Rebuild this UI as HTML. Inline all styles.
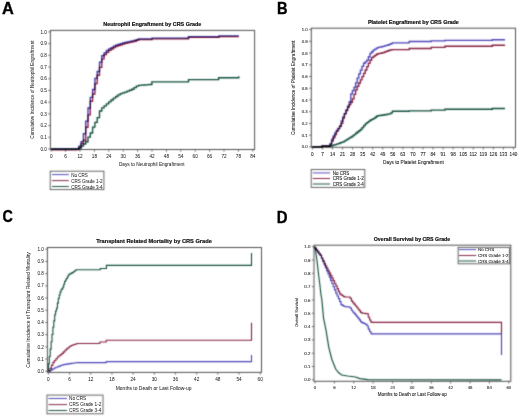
<!DOCTYPE html>
<html><head><meta charset="utf-8"><style>
html,body{margin:0;padding:0;background:#fff;width:520px;height:416px;overflow:hidden}
svg{display:block}
text{font-family:"Liberation Sans",sans-serif}
text.g{text-rendering:geometricPrecision}
</style></head><body>
<svg width="520" height="416" viewBox="0 0 520 416">
<defs><filter id="bl" x="0" y="0" width="520" height="416" filterUnits="userSpaceOnUse" color-interpolation-filters="sRGB"><feConvolveMatrix order="3" kernelMatrix="1 4 1 4 16 4 1 4 1" edgeMode="duplicate" preserveAlpha="true"/></filter><filter id="bt" x="0" y="0" width="520" height="416" filterUnits="userSpaceOnUse" color-interpolation-filters="sRGB"><feConvolveMatrix order="3" kernelMatrix="0 0 0 0 1 0 0 0 0" preserveAlpha="false"/></filter></defs>
<rect width="520" height="416" fill="#fff"/>
<g filter="url(#bl)">
<rect width="520" height="416" fill="#fff"/>
<rect x="50.4" y="30.4" width="204.2" height="119.1" fill="none" stroke="#505050" stroke-width="1"/>
<line x1="48.2" y1="149" x2="50.4" y2="149" stroke="#505050" stroke-width="0.8"/>
<line x1="48.2" y1="137.29" x2="50.4" y2="137.29" stroke="#505050" stroke-width="0.8"/>
<line x1="48.2" y1="125.58" x2="50.4" y2="125.58" stroke="#505050" stroke-width="0.8"/>
<line x1="48.2" y1="113.87" x2="50.4" y2="113.87" stroke="#505050" stroke-width="0.8"/>
<line x1="48.2" y1="102.16" x2="50.4" y2="102.16" stroke="#505050" stroke-width="0.8"/>
<line x1="48.2" y1="90.45" x2="50.4" y2="90.45" stroke="#505050" stroke-width="0.8"/>
<line x1="48.2" y1="78.74" x2="50.4" y2="78.74" stroke="#505050" stroke-width="0.8"/>
<line x1="48.2" y1="67.03" x2="50.4" y2="67.03" stroke="#505050" stroke-width="0.8"/>
<line x1="48.2" y1="55.32" x2="50.4" y2="55.32" stroke="#505050" stroke-width="0.8"/>
<line x1="48.2" y1="43.61" x2="50.4" y2="43.61" stroke="#505050" stroke-width="0.8"/>
<line x1="48.2" y1="31.9" x2="50.4" y2="31.9" stroke="#505050" stroke-width="0.8"/>
<line x1="51.2" y1="149.5" x2="51.2" y2="151.7" stroke="#505050" stroke-width="0.8"/>
<line x1="65.6" y1="149.5" x2="65.6" y2="151.7" stroke="#505050" stroke-width="0.8"/>
<line x1="80" y1="149.5" x2="80" y2="151.7" stroke="#505050" stroke-width="0.8"/>
<line x1="94.4" y1="149.5" x2="94.4" y2="151.7" stroke="#505050" stroke-width="0.8"/>
<line x1="108.8" y1="149.5" x2="108.8" y2="151.7" stroke="#505050" stroke-width="0.8"/>
<line x1="123.2" y1="149.5" x2="123.2" y2="151.7" stroke="#505050" stroke-width="0.8"/>
<line x1="137.6" y1="149.5" x2="137.6" y2="151.7" stroke="#505050" stroke-width="0.8"/>
<line x1="152" y1="149.5" x2="152" y2="151.7" stroke="#505050" stroke-width="0.8"/>
<line x1="166.4" y1="149.5" x2="166.4" y2="151.7" stroke="#505050" stroke-width="0.8"/>
<line x1="180.8" y1="149.5" x2="180.8" y2="151.7" stroke="#505050" stroke-width="0.8"/>
<line x1="195.2" y1="149.5" x2="195.2" y2="151.7" stroke="#505050" stroke-width="0.8"/>
<line x1="209.6" y1="149.5" x2="209.6" y2="151.7" stroke="#505050" stroke-width="0.8"/>
<line x1="224" y1="149.5" x2="224" y2="151.7" stroke="#505050" stroke-width="0.8"/>
<line x1="238.4" y1="149.5" x2="238.4" y2="151.7" stroke="#505050" stroke-width="0.8"/>
<line x1="252.8" y1="149.5" x2="252.8" y2="151.7" stroke="#505050" stroke-width="0.8"/>
<path d="M51.2,149.8 H53.5 V149.8 H55.8 V149.8 H58.1 V149.8 H60.4 V149.8 H62.7 V149.8 H65 V149.8 H67.3 V149.8 H69.6 V149.8 H71.9 V149.8 H74.2 V149.8 H76.5 V149.63 H78.8 V147.69 H81.1 V143.67 H83.4 V140.23 H85.7 V127.26 H88 V114.8 H90.3 V101.28 H92.6 V94.01 H94.9 V83.59 H97.2 V75.25 H99.5 V67.32 H101.8 V58.92 H104.1 V54.6 H106.4 V52.3 H108.7 V50.32 H111 V48.95 H113.3 V47.57 H115.6 V46.2 H117.9 V45.52 H120.2 V44.84 H122.5 V44.11 H124.8 V43.37 H127.1 V42.88 H129.4 V42.42 H131.7 V41.83 H134 V41.2 H136.3 V40.38 H138.5 V39.6 L138.5,39.6 H152 V38.9 H188.5 V37.4 H219 V36.6 H238.8 V36.6" fill="none" stroke="#961e46" stroke-width="1.35" stroke-linejoin="miter" style="mix-blend-mode:multiply"/>
<path d="M51.2,149 H53.5 V149 H55.8 V149 H58.1 V149 H60.4 V149 H62.7 V149 H65 V149 H67.3 V149 H69.6 V149 H71.9 V149 H74.2 V149 H76.5 V148.83 H78.8 V146.18 H81.1 V141.57 H83.4 V133.78 H85.7 V121.07 H88 V108 H90.3 V97.32 H92.6 V89.46 H94.9 V78.31 H97.2 V71.48 H99.5 V62.17 H101.8 V55.77 H104.1 V52.8 H106.4 V50.5 H108.7 V48.92 H111 V47.55 H113.3 V46.18 H115.6 V45.1 H117.9 V44.42 H120.2 V43.74 H122.5 V42.99 H124.8 V42.34 H127.1 V41.88 H129.4 V41.41 H131.7 V40.91 H134 V40.4 H136.3 V39.58 H138.5 V38.8 L138.5,38.8 H152 V38.1 H188.5 V36.6 H219 V35.8 H238.8 V35.8" fill="none" stroke="#3c32aa" stroke-width="1.35" stroke-linejoin="miter" style="mix-blend-mode:multiply"/>
<path d="M51.2,149 H53.5 V149 H55.8 V149 H58.1 V149 H60.4 V149 H62.7 V149 H65 V149 H67.3 V149 H69.6 V149 H71.9 V149 H74.2 V149 H76.5 V149 H78.8 V148.13 H81.1 V146.05 H83.4 V144.04 H85.7 V141.7 H88 V137.19 H90.3 V133 H92.6 V127.09 H94.9 V122.41 H97.2 V117.59 H99.5 V111 H101.8 V107.81 H104.1 V105.82 H106.4 V103.83 H108.7 V101.87 H111 V99.97 H113.3 V98.07 H115.6 V96.46 H117.9 V94.89 H120.2 V93.67 H122.5 V92.92 H124.8 V92.17 H127.1 V91.19 H129.4 V90.2 H131.7 V89.2 H134 V87.69 H136.3 V86.19 H138.6 V85.32 H140.9 V85.16 H143.2 V85 H145.5 V84.84 H147.8 V84.68 H150.1 V84.53 H151.9 V84.4" fill="none" stroke="#0e4c3c" stroke-width="1.35" stroke-linejoin="miter" style="mix-blend-mode:multiply"/>
<path d="M151.9,84.4 H151.9 V81.9 H188.5 V81.9 H188.5 V79.6 H218.6 V79.6 H218.6 V77.7 H238.8 V77.7 H238.8 V76.2" fill="none" stroke="#0e4c3c" stroke-width="1.35" stroke-linejoin="miter" style="mix-blend-mode:multiply"/>
<rect x="50.2" y="171.2" width="53.7" height="18.4" fill="#fff" stroke="#555" stroke-width="0.9"/>
<line x1="52" y1="174.6" x2="68.8" y2="174.6" stroke="#4a42b8" stroke-width="0.95"/>
<line x1="52" y1="180.6" x2="68.8" y2="180.6" stroke="#841e3e" stroke-width="0.95"/>
<line x1="52" y1="186.5" x2="68.8" y2="186.5" stroke="#0e4c3c" stroke-width="0.95"/>
<rect x="311.3" y="28.2" width="204.2" height="119.1" fill="none" stroke="#505050" stroke-width="1"/>
<line x1="309.1" y1="146.9" x2="311.3" y2="146.9" stroke="#505050" stroke-width="0.8"/>
<line x1="309.1" y1="135.17" x2="311.3" y2="135.17" stroke="#505050" stroke-width="0.8"/>
<line x1="309.1" y1="123.44" x2="311.3" y2="123.44" stroke="#505050" stroke-width="0.8"/>
<line x1="309.1" y1="111.71" x2="311.3" y2="111.71" stroke="#505050" stroke-width="0.8"/>
<line x1="309.1" y1="99.98" x2="311.3" y2="99.98" stroke="#505050" stroke-width="0.8"/>
<line x1="309.1" y1="88.25" x2="311.3" y2="88.25" stroke="#505050" stroke-width="0.8"/>
<line x1="309.1" y1="76.52" x2="311.3" y2="76.52" stroke="#505050" stroke-width="0.8"/>
<line x1="309.1" y1="64.79" x2="311.3" y2="64.79" stroke="#505050" stroke-width="0.8"/>
<line x1="309.1" y1="53.06" x2="311.3" y2="53.06" stroke="#505050" stroke-width="0.8"/>
<line x1="309.1" y1="41.33" x2="311.3" y2="41.33" stroke="#505050" stroke-width="0.8"/>
<line x1="309.1" y1="29.6" x2="311.3" y2="29.6" stroke="#505050" stroke-width="0.8"/>
<line x1="312.4" y1="147.3" x2="312.4" y2="149.5" stroke="#505050" stroke-width="0.8"/>
<line x1="322.45" y1="147.3" x2="322.45" y2="149.5" stroke="#505050" stroke-width="0.8"/>
<line x1="332.5" y1="147.3" x2="332.5" y2="149.5" stroke="#505050" stroke-width="0.8"/>
<line x1="342.56" y1="147.3" x2="342.56" y2="149.5" stroke="#505050" stroke-width="0.8"/>
<line x1="352.61" y1="147.3" x2="352.61" y2="149.5" stroke="#505050" stroke-width="0.8"/>
<line x1="362.66" y1="147.3" x2="362.66" y2="149.5" stroke="#505050" stroke-width="0.8"/>
<line x1="372.71" y1="147.3" x2="372.71" y2="149.5" stroke="#505050" stroke-width="0.8"/>
<line x1="382.76" y1="147.3" x2="382.76" y2="149.5" stroke="#505050" stroke-width="0.8"/>
<line x1="392.82" y1="147.3" x2="392.82" y2="149.5" stroke="#505050" stroke-width="0.8"/>
<line x1="402.87" y1="147.3" x2="402.87" y2="149.5" stroke="#505050" stroke-width="0.8"/>
<line x1="412.92" y1="147.3" x2="412.92" y2="149.5" stroke="#505050" stroke-width="0.8"/>
<line x1="422.97" y1="147.3" x2="422.97" y2="149.5" stroke="#505050" stroke-width="0.8"/>
<line x1="433.02" y1="147.3" x2="433.02" y2="149.5" stroke="#505050" stroke-width="0.8"/>
<line x1="443.08" y1="147.3" x2="443.08" y2="149.5" stroke="#505050" stroke-width="0.8"/>
<line x1="453.13" y1="147.3" x2="453.13" y2="149.5" stroke="#505050" stroke-width="0.8"/>
<line x1="463.18" y1="147.3" x2="463.18" y2="149.5" stroke="#505050" stroke-width="0.8"/>
<line x1="473.23" y1="147.3" x2="473.23" y2="149.5" stroke="#505050" stroke-width="0.8"/>
<line x1="483.28" y1="147.3" x2="483.28" y2="149.5" stroke="#505050" stroke-width="0.8"/>
<line x1="493.34" y1="147.3" x2="493.34" y2="149.5" stroke="#505050" stroke-width="0.8"/>
<line x1="503.39" y1="147.3" x2="503.39" y2="149.5" stroke="#505050" stroke-width="0.8"/>
<line x1="513.44" y1="147.3" x2="513.44" y2="149.5" stroke="#505050" stroke-width="0.8"/>
<path d="M312.4,146.9 H314 V146.9 H315.6 V146.9 H317.2 V146.9 H318.8 V146.9 H320.4 V146.9 H322 V146 H323.6 V146 H325.2 V146 H326.8 V146 H328.4 V146 H330 V144.85 H331.6 V141.15 H333.2 V137.78 H334.8 V134.55 H336.4 V131.32 H338 V128.42 H339.6 V126.06 H341.2 V123.34 H342.8 V118.07 H344.4 V113.68 H346 V110.45 H347.6 V107.21 H349.2 V104.58 H350.8 V102.22 H352.4 V98.91 H354 V94.37 H355.6 V89.82 H357.2 V86.2 H358.8 V83 H360.4 V79.8 H362 V76.6 H363.6 V73.3 H365.2 V69.99 H366.8 V66.67 H368.4 V63.42 H370 V60.27 H371.6 V57.62 H373.2 V56.5 H374.8 V55.37 H376.4 V54.25 H378 V53.67 H379.6 V53.34 H381.2 V53.01 H382.8 V52.66 H384.4 V52.03 H386 V51.39 H387.6 V50.76 H389.2 V50.26 H390.8 V49.94 H392.4 V49.62 H392.5 V49.6 L392.5,49.6 H409.2 V48.5 H431.2 V47.3 H445 V46.2 H492.3 V45.2 H505 V45.2" fill="none" stroke="#841e3e" stroke-width="1.35" stroke-linejoin="miter" style="mix-blend-mode:multiply"/>
<path d="M312.4,146.9 H314 V146.9 H315.6 V146.9 H317.2 V146.9 H318.8 V146.9 H320.4 V146.9 H322 V146 H323.6 V146 H325.2 V146 H326.8 V146 H328.4 V146 H330 V143.72 H331.6 V139.51 H333.2 V136.03 H334.8 V132.87 H336.4 V130.4 H338 V128.8 H339.6 V126.28 H341.2 V121.01 H342.8 V116.9 H344.4 V113.7 H346 V109.93 H347.6 V106.07 H349.2 V101.71 H350.8 V93.8 H352.4 V90.55 H354 V87.31 H355.6 V82.84 H357.2 V78.08 H358.8 V73.87 H360.4 V70.09 H362 V66.3 H363.6 V63.27 H365.2 V61.91 H366.8 V60.16 H368.4 V56.73 H370 V53.3 H371.6 V51.7 H373.2 V50.1 H374.8 V49.05 H376.4 V48.13 H378 V47.39 H379.6 V47.06 H381.2 V46.72 H382.8 V46.37 H384.4 V45.9 H386 V45.43 H387.6 V44.96 H389.2 V44.38 H390.8 V43.66 H392.4 V42.94 H392.5 V42.9 L392.5,42.9 H409.2 V41.5 H431.2 V40.8 H445 V40.4 H492.3 V39.7 H505 V39.7" fill="none" stroke="#4a42b8" stroke-width="1.35" stroke-linejoin="miter" style="mix-blend-mode:multiply"/>
<path d="M312.4,146.9 H314 V146.9 H315.6 V146.9 H317.2 V146.9 H318.8 V146.9 H320.4 V146.9 H322 V146.4 H323.6 V146.4 H325.2 V146.4 H326.8 V146.4 H328.4 V146.4 H330 V146.01 H331.6 V145.55 H333.2 V145.1 H334.8 V144.65 H336.4 V144.14 H338 V143.56 H339.6 V142.97 H341.2 V142.39 H342.8 V141.8 H344.4 V140.83 H346 V139.86 H347.6 V138.89 H349.2 V137.92 H350.8 V136.95 H352.4 V135.84 H354 V134.57 H355.6 V133.29 H357.2 V132.01 H358.8 V130.74 H360.4 V129.46 H362 V127.61 H363.6 V125.69 H365.2 V123.84 H366.8 V122.59 H368.4 V121.34 H370 V120.21 H371.6 V119.43 H373.2 V118.65 H374.8 V117.51 H376.4 V116.29 H378 V115.57 H379.6 V115.51 H381.2 V115.29 H382.8 V115.01 H384.4 V114.73 H386 V114.45 H387.6 V114.17 H389.2 V113.89 H390.8 V112.93 H392.4 V111.3 H392.5 V111.2 L392.5,111.2 H409.2 V110.8 H431.2 V110.1 H445 V109.2 H492.3 V108.5 H505 V108.5" fill="none" stroke="#0e4c3c" stroke-width="1.35" stroke-linejoin="miter" style="mix-blend-mode:multiply"/>
<rect x="311.2" y="169.5" width="53.6" height="17.9" fill="#fff" stroke="#555" stroke-width="0.9"/>
<line x1="312.8" y1="172.9" x2="330" y2="172.9" stroke="#4a42b8" stroke-width="0.95"/>
<line x1="312.8" y1="178.5" x2="330" y2="178.5" stroke="#841e3e" stroke-width="0.95"/>
<line x1="312.8" y1="184" x2="330" y2="184" stroke="#0e4c3c" stroke-width="0.95"/>
<rect x="47.4" y="247.5" width="214.1" height="124.9" fill="none" stroke="#505050" stroke-width="1"/>
<line x1="45.2" y1="371.3" x2="47.4" y2="371.3" stroke="#505050" stroke-width="0.8"/>
<line x1="45.2" y1="359.09" x2="47.4" y2="359.09" stroke="#505050" stroke-width="0.8"/>
<line x1="45.2" y1="346.88" x2="47.4" y2="346.88" stroke="#505050" stroke-width="0.8"/>
<line x1="45.2" y1="334.67" x2="47.4" y2="334.67" stroke="#505050" stroke-width="0.8"/>
<line x1="45.2" y1="322.46" x2="47.4" y2="322.46" stroke="#505050" stroke-width="0.8"/>
<line x1="45.2" y1="310.25" x2="47.4" y2="310.25" stroke="#505050" stroke-width="0.8"/>
<line x1="45.2" y1="298.04" x2="47.4" y2="298.04" stroke="#505050" stroke-width="0.8"/>
<line x1="45.2" y1="285.83" x2="47.4" y2="285.83" stroke="#505050" stroke-width="0.8"/>
<line x1="45.2" y1="273.62" x2="47.4" y2="273.62" stroke="#505050" stroke-width="0.8"/>
<line x1="45.2" y1="261.41" x2="47.4" y2="261.41" stroke="#505050" stroke-width="0.8"/>
<line x1="45.2" y1="249.2" x2="47.4" y2="249.2" stroke="#505050" stroke-width="0.8"/>
<line x1="48.4" y1="372.4" x2="48.4" y2="374.6" stroke="#505050" stroke-width="0.8"/>
<line x1="69.58" y1="372.4" x2="69.58" y2="374.6" stroke="#505050" stroke-width="0.8"/>
<line x1="90.76" y1="372.4" x2="90.76" y2="374.6" stroke="#505050" stroke-width="0.8"/>
<line x1="111.94" y1="372.4" x2="111.94" y2="374.6" stroke="#505050" stroke-width="0.8"/>
<line x1="133.12" y1="372.4" x2="133.12" y2="374.6" stroke="#505050" stroke-width="0.8"/>
<line x1="154.3" y1="372.4" x2="154.3" y2="374.6" stroke="#505050" stroke-width="0.8"/>
<line x1="175.48" y1="372.4" x2="175.48" y2="374.6" stroke="#505050" stroke-width="0.8"/>
<line x1="196.66" y1="372.4" x2="196.66" y2="374.6" stroke="#505050" stroke-width="0.8"/>
<line x1="217.84" y1="372.4" x2="217.84" y2="374.6" stroke="#505050" stroke-width="0.8"/>
<line x1="239.02" y1="372.4" x2="239.02" y2="374.6" stroke="#505050" stroke-width="0.8"/>
<line x1="260.2" y1="372.4" x2="260.2" y2="374.6" stroke="#505050" stroke-width="0.8"/>
<path d="M48.4,371.3 H49.9 V370.46 H51.4 V369.62 H52.9 V368.78 H54.4 V367.94 H55.9 V367.25 H57.4 V366.68 H58.9 V366.1 H60.4 V365.53 H61.9 V364.95 H63.4 V364.62 H64.9 V364.37 H66.4 V364.13 H67.9 V363.88 H69.4 V363.63 H70.9 V363.42 H72.4 V363.22 H73.9 V363.01 H75.4 V362.81 H76.9 V362.6 L76.9,362.6 H106.1 V362.6 H106.2 V361.6 H251.5 V361.6 H251.5 V355" fill="none" stroke="#4a42b8" stroke-width="1.1" stroke-linejoin="miter" style="mix-blend-mode:multiply"/>
<path d="M48.4,371.3 H49.9 V368.33 H51.4 V365.36 H52.9 V362.4 H54.4 V360.47 H55.9 V358.71 H57.4 V356.95 H58.9 V355.72 H60.4 V354.63 H61.9 V353.39 H63.4 V351.86 H64.9 V350.32 H66.4 V348.91 H67.9 V347.73 H69.4 V346.56 H70.9 V345.56 H72.4 V345.05 H73.9 V344.53 H75.4 V344.02 H76.9 V343.5 L76.9,343.5 H99.7 V343.5 H99.8 V342 H106.1 V342 H106.2 V340.2 H251.5 V340.2 H251.5 V322.7" fill="none" stroke="#841e3e" stroke-width="1.1" stroke-linejoin="miter" style="mix-blend-mode:multiply"/>
<path d="M48.4,371.3 V363.88 H49.3 V356.45 H50.2 V349.12 H51.1 V341.82 H52 V334.52 H52.9 V327.22 H53.8 V320.88 H54.7 V314.82 H55.6 V310.97 H56.5 V308.22 H57.4 V303.13 H58.3 V298.48 H59.2 V294.99 H60.1 V292.15 H61 V289.8 H61.9 V288.9 H62.8 V286.98 H63.7 V284.24 H64.6 V281.5 H65.5 V280.01 H66.4 V278.53 H67.3 V276.93 H68.2 V275.18 H69.1 V274.29 H70 V273.83 H70.9 V273.36 H71.8 V272.87 H72.7 V272.28 H73.6 V271.7 H74.5 V271.01 H75.4 V270.27 H76.3 V269.7 H77.2 V269.7 H78.1 V269.7 H79 V269.7 H79.9 V269.7 H80.8 V269.7 H81.7 V269.7 H82.6 V269.7 H83.5 V269.7 H84.4 V269.7 H85.3 V269.7 H86.2 V269.7 H87.1 V269.7 H88 V269.7 H88.9 V269.7 H89.8 V269.7 H90.7 V269.7 H91.6 V269.7 H92.5 V269.7 H93.4 V269.7 H94.3 V269.7 H95.2 V269.7 H96.1 V269.7 H97 V269.7 H97.9 V269.7 H98.8 V269.7 H99.7 V269.7 H100.2 L100.2,269.7 H100.3 V268.5 H106.3 V268.5 H106.4 V265.4 H251.5 V265.4 H251.5 V253" fill="none" stroke="#0e4c3c" stroke-width="1.1" stroke-linejoin="miter" style="mix-blend-mode:multiply"/>
<rect x="47" y="395.1" width="56" height="18.7" fill="#fff" stroke="#555" stroke-width="0.9"/>
<line x1="48.5" y1="398.5" x2="67" y2="398.5" stroke="#4a42b8" stroke-width="0.95"/>
<line x1="48.5" y1="404.6" x2="67" y2="404.6" stroke="#841e3e" stroke-width="0.95"/>
<line x1="48.5" y1="410.5" x2="67" y2="410.5" stroke="#0e4c3c" stroke-width="0.95"/>
<rect x="314" y="245.2" width="196.8" height="136.1" fill="none" stroke="#505050" stroke-width="1"/>
<line x1="311.8" y1="379.8" x2="314" y2="379.8" stroke="#505050" stroke-width="0.8"/>
<line x1="311.8" y1="366.49" x2="314" y2="366.49" stroke="#505050" stroke-width="0.8"/>
<line x1="311.8" y1="353.18" x2="314" y2="353.18" stroke="#505050" stroke-width="0.8"/>
<line x1="311.8" y1="339.87" x2="314" y2="339.87" stroke="#505050" stroke-width="0.8"/>
<line x1="311.8" y1="326.56" x2="314" y2="326.56" stroke="#505050" stroke-width="0.8"/>
<line x1="311.8" y1="313.25" x2="314" y2="313.25" stroke="#505050" stroke-width="0.8"/>
<line x1="311.8" y1="299.94" x2="314" y2="299.94" stroke="#505050" stroke-width="0.8"/>
<line x1="311.8" y1="286.63" x2="314" y2="286.63" stroke="#505050" stroke-width="0.8"/>
<line x1="311.8" y1="273.32" x2="314" y2="273.32" stroke="#505050" stroke-width="0.8"/>
<line x1="311.8" y1="260.01" x2="314" y2="260.01" stroke="#505050" stroke-width="0.8"/>
<line x1="311.8" y1="246.7" x2="314" y2="246.7" stroke="#505050" stroke-width="0.8"/>
<line x1="315" y1="381.3" x2="315" y2="383.5" stroke="#505050" stroke-width="0.8"/>
<line x1="334.38" y1="381.3" x2="334.38" y2="383.5" stroke="#505050" stroke-width="0.8"/>
<line x1="353.76" y1="381.3" x2="353.76" y2="383.5" stroke="#505050" stroke-width="0.8"/>
<line x1="373.14" y1="381.3" x2="373.14" y2="383.5" stroke="#505050" stroke-width="0.8"/>
<line x1="392.52" y1="381.3" x2="392.52" y2="383.5" stroke="#505050" stroke-width="0.8"/>
<line x1="411.9" y1="381.3" x2="411.9" y2="383.5" stroke="#505050" stroke-width="0.8"/>
<line x1="431.28" y1="381.3" x2="431.28" y2="383.5" stroke="#505050" stroke-width="0.8"/>
<line x1="450.66" y1="381.3" x2="450.66" y2="383.5" stroke="#505050" stroke-width="0.8"/>
<line x1="470.04" y1="381.3" x2="470.04" y2="383.5" stroke="#505050" stroke-width="0.8"/>
<line x1="489.42" y1="381.3" x2="489.42" y2="383.5" stroke="#505050" stroke-width="0.8"/>
<line x1="508.8" y1="381.3" x2="508.8" y2="383.5" stroke="#505050" stroke-width="0.8"/>
<path d="M315,246.7 V248.44 H316.3 V250.18 H317.6 V251.92 H318.9 V253.66 H320.2 V255.4 H321.5 V258 H322.8 V260.6 H324.1 V263.2 H325.4 V265.8 H326.7 V268.27 H328 V270.72 H329.3 V273.18 H330.6 V275.63 H331.9 V278.09 H333.2 V280.66 H334.5 V283.23 H335.8 V285.83 H337.1 V288.63 H338.4 V291.43 H339.7 V293.94 H341 V294.84 H342.3 V295.75 H343.6 V296.65 H344.9 V297 H346.2 V297 H347.5 V297 H348.8 V297 H350.1 V298.23 H351.4 V300.89 H352.7 V302.67 H354 V304.19 H355.3 V305.71 H356.6 V307.26 H357.9 V308.96 H359.2 V310.65 H360.5 V312.35 H361.8 V313.1 H363.1 V313.27 H364.4 V313.44 H365.7 V313.61 H367 V313.77 H368.3 V317.25 H369.6 V319.99 H370.9 V322.13 H372.2 V322.3 H372.3 L372.3,322.3 H501.5 V322.3 H501.5 V333.6" fill="none" stroke="#841e3e" stroke-width="1.15" stroke-linejoin="miter" style="mix-blend-mode:multiply"/>
<path d="M315,246.7 V248.44 H316.3 V250.18 H317.6 V251.92 H318.9 V253.66 H320.2 V255.4 H321.5 V258.47 H322.8 V261.53 H324.1 V264.6 H325.4 V267.75 H326.7 V270.89 H328 V274.04 H329.3 V277.19 H330.6 V280.34 H331.9 V283.49 H333.2 V286.7 H334.5 V289.91 H335.8 V293.12 H337.1 V296 H338.4 V298.6 H339.7 V301.55 H341 V304.6 H342.3 V305.44 H343.6 V306.28 H344.9 V306.66 H346.2 V306.76 H347.5 V306.85 H348.8 V306.95 H350.1 V308.04 H351.4 V310.28 H352.7 V311.95 H354 V313.44 H355.3 V314.94 H356.6 V316.47 H357.9 V318.19 H359.2 V319.91 H360.5 V321.64 H361.8 V322.64 H363.1 V323.19 H364.4 V323.75 H365.7 V324.3 H367 V326.01 H368.3 V329.06 H369.6 V331.49 H370.9 V333.63 H372.2 V333.8 H372.3 L372.3,333.8 H501.5 V333.8 H501.5 V355" fill="none" stroke="#4a42b8" stroke-width="1.15" stroke-linejoin="miter" style="mix-blend-mode:multiply"/>
<path d="M315,246.7 L316.2,255 L317.5,265 L318.6,275 L319.9,285 L321,295 L321.9,300 L323.5,317.8 L325.9,329.6 L328.8,347.3 L331.8,359.2 L335.7,369 L338.5,372.5 L341.6,375 L347.6,376 L355.4,377 L360,378.6 L367.7,379.6 L501.5,379.8" fill="none" stroke="#0e4c3c" stroke-width="1.15" stroke-linejoin="miter" style="mix-blend-mode:multiply"/>
<rect x="458.1" y="247.4" width="51.3" height="16.4" fill="#fff" stroke="#555" stroke-width="0.9"/>
<line x1="458.8" y1="249.6" x2="476.2" y2="249.6" stroke="#4a42b8" stroke-width="0.95"/>
<line x1="458.8" y1="255.5" x2="476.2" y2="255.5" stroke="#841e3e" stroke-width="0.95"/>
<line x1="458.8" y1="261" x2="476.2" y2="261" stroke="#0e4c3c" stroke-width="0.95"/>
</g>
<g filter="url(#bt)">
<text transform="translate(46.8 150.66) scale(1 1)" font-size="4.6" text-anchor="end" fill="#222" stroke="#222" stroke-width="0.03">0.0</text>
<text transform="translate(46.8 138.95) scale(1 1)" font-size="4.6" text-anchor="end" fill="#222" stroke="#222" stroke-width="0.03">0.1</text>
<text transform="translate(46.8 127.24) scale(1 1)" font-size="4.6" text-anchor="end" fill="#222" stroke="#222" stroke-width="0.03">0.2</text>
<text transform="translate(46.8 115.53) scale(1 1)" font-size="4.6" text-anchor="end" fill="#222" stroke="#222" stroke-width="0.03">0.3</text>
<text transform="translate(46.8 103.82) scale(1 1)" font-size="4.6" text-anchor="end" fill="#222" stroke="#222" stroke-width="0.03">0.4</text>
<text transform="translate(46.8 92.11) scale(1 1)" font-size="4.6" text-anchor="end" fill="#222" stroke="#222" stroke-width="0.03">0.5</text>
<text transform="translate(46.8 80.4) scale(1 1)" font-size="4.6" text-anchor="end" fill="#222" stroke="#222" stroke-width="0.03">0.6</text>
<text transform="translate(46.8 68.69) scale(1 1)" font-size="4.6" text-anchor="end" fill="#222" stroke="#222" stroke-width="0.03">0.7</text>
<text transform="translate(46.8 56.98) scale(1 1)" font-size="4.6" text-anchor="end" fill="#222" stroke="#222" stroke-width="0.03">0.8</text>
<text transform="translate(46.8 45.27) scale(1 1)" font-size="4.6" text-anchor="end" fill="#222" stroke="#222" stroke-width="0.03">0.9</text>
<text transform="translate(46.8 33.56) scale(1 1)" font-size="4.6" text-anchor="end" fill="#222" stroke="#222" stroke-width="0.03">1.0</text>
<text transform="translate(51.2 158.1) scale(1 1)" font-size="4.7" text-anchor="middle" fill="#222" stroke="#222" stroke-width="0.03">0</text>
<text transform="translate(65.6 158.1) scale(1 1)" font-size="4.7" text-anchor="middle" fill="#222" stroke="#222" stroke-width="0.03">6</text>
<text transform="translate(80 158.1) scale(1 1)" font-size="4.7" text-anchor="middle" fill="#222" stroke="#222" stroke-width="0.03">12</text>
<text transform="translate(94.4 158.1) scale(1 1)" font-size="4.7" text-anchor="middle" fill="#222" stroke="#222" stroke-width="0.03">18</text>
<text transform="translate(108.8 158.1) scale(1 1)" font-size="4.7" text-anchor="middle" fill="#222" stroke="#222" stroke-width="0.03">24</text>
<text transform="translate(123.2 158.1) scale(1 1)" font-size="4.7" text-anchor="middle" fill="#222" stroke="#222" stroke-width="0.03">30</text>
<text transform="translate(137.6 158.1) scale(1 1)" font-size="4.7" text-anchor="middle" fill="#222" stroke="#222" stroke-width="0.03">36</text>
<text transform="translate(152 158.1) scale(1 1)" font-size="4.7" text-anchor="middle" fill="#222" stroke="#222" stroke-width="0.03">42</text>
<text transform="translate(166.4 158.1) scale(1 1)" font-size="4.7" text-anchor="middle" fill="#222" stroke="#222" stroke-width="0.03">48</text>
<text transform="translate(180.8 158.1) scale(1 1)" font-size="4.7" text-anchor="middle" fill="#222" stroke="#222" stroke-width="0.03">54</text>
<text transform="translate(195.2 158.1) scale(1 1)" font-size="4.7" text-anchor="middle" fill="#222" stroke="#222" stroke-width="0.03">60</text>
<text transform="translate(209.6 158.1) scale(1 1)" font-size="4.7" text-anchor="middle" fill="#222" stroke="#222" stroke-width="0.03">66</text>
<text transform="translate(224 158.1) scale(1 1)" font-size="4.7" text-anchor="middle" fill="#222" stroke="#222" stroke-width="0.03">72</text>
<text transform="translate(238.4 158.1) scale(1 1)" font-size="4.7" text-anchor="middle" fill="#222" stroke="#222" stroke-width="0.03">78</text>
<text transform="translate(252.8 158.1) scale(1 1)" font-size="4.7" text-anchor="middle" fill="#222" stroke="#222" stroke-width="0.03">84</text>
<text transform="translate(152.3 25.8) scale(1 1)" font-size="5.4" text-anchor="middle" font-weight="bold" fill="#111" stroke="#111" stroke-width="0.2">Neutrophil Engraftment by CRS Grade</text>
<text transform="translate(151.7 165.6) scale(1 1)" font-size="4.72" text-anchor="middle" fill="#222" stroke="#222" stroke-width="0.03">Days to Neutrophil Engraftment</text>
<text transform="translate(33.8 89.6) rotate(-90) scale(1 1)" font-size="4.64" text-anchor="middle" fill="#222" stroke="#222" stroke-width="0.03">Cumulative Incidence of Neutrophil Engraftment</text>
<text transform="translate(71.2 176.6) scale(1 1)" font-size="4.55" text-anchor="start" fill="#222" stroke="#222" stroke-width="0.03">No CRS</text>
<text transform="translate(71.2 182.6) scale(1 1)" font-size="4.55" text-anchor="start" fill="#222" stroke="#222" stroke-width="0.03">CRS Grade 1-2</text>
<text transform="translate(71.2 188.5) scale(1 1)" font-size="4.55" text-anchor="start" fill="#222" stroke="#222" stroke-width="0.03">CRS Grade 3-4</text>
<text class="g" transform="translate(307.7 148.45) scale(1 1)" font-size="4.3" text-anchor="end" fill="#222" stroke="#222" stroke-width="0.08">0.0</text>
<text class="g" transform="translate(307.7 136.72) scale(1 1)" font-size="4.3" text-anchor="end" fill="#222" stroke="#222" stroke-width="0.08">0.1</text>
<text class="g" transform="translate(307.7 124.99) scale(1 1)" font-size="4.3" text-anchor="end" fill="#222" stroke="#222" stroke-width="0.08">0.2</text>
<text class="g" transform="translate(307.7 113.26) scale(1 1)" font-size="4.3" text-anchor="end" fill="#222" stroke="#222" stroke-width="0.08">0.3</text>
<text class="g" transform="translate(307.7 101.53) scale(1 1)" font-size="4.3" text-anchor="end" fill="#222" stroke="#222" stroke-width="0.08">0.4</text>
<text class="g" transform="translate(307.7 89.8) scale(1 1)" font-size="4.3" text-anchor="end" fill="#222" stroke="#222" stroke-width="0.08">0.5</text>
<text class="g" transform="translate(307.7 78.07) scale(1 1)" font-size="4.3" text-anchor="end" fill="#222" stroke="#222" stroke-width="0.08">0.6</text>
<text class="g" transform="translate(307.7 66.34) scale(1 1)" font-size="4.3" text-anchor="end" fill="#222" stroke="#222" stroke-width="0.08">0.7</text>
<text class="g" transform="translate(307.7 54.61) scale(1 1)" font-size="4.3" text-anchor="end" fill="#222" stroke="#222" stroke-width="0.08">0.8</text>
<text class="g" transform="translate(307.7 42.88) scale(1 1)" font-size="4.3" text-anchor="end" fill="#222" stroke="#222" stroke-width="0.08">0.9</text>
<text class="g" transform="translate(307.7 31.15) scale(1 1)" font-size="4.3" text-anchor="end" fill="#222" stroke="#222" stroke-width="0.08">1.0</text>
<text transform="translate(312.4 156) scale(1 1)" font-size="4.65" text-anchor="middle" fill="#222" stroke="#222" stroke-width="0.08">0</text>
<text transform="translate(322.45 156) scale(1 1)" font-size="4.65" text-anchor="middle" fill="#222" stroke="#222" stroke-width="0.08">7</text>
<text transform="translate(332.5 156) scale(1 1)" font-size="4.65" text-anchor="middle" fill="#222" stroke="#222" stroke-width="0.08">14</text>
<text transform="translate(342.56 156) scale(1 1)" font-size="4.65" text-anchor="middle" fill="#222" stroke="#222" stroke-width="0.08">21</text>
<text transform="translate(352.61 156) scale(1 1)" font-size="4.65" text-anchor="middle" fill="#222" stroke="#222" stroke-width="0.08">28</text>
<text transform="translate(362.66 156) scale(1 1)" font-size="4.65" text-anchor="middle" fill="#222" stroke="#222" stroke-width="0.08">35</text>
<text transform="translate(372.71 156) scale(1 1)" font-size="4.65" text-anchor="middle" fill="#222" stroke="#222" stroke-width="0.08">42</text>
<text transform="translate(382.76 156) scale(1 1)" font-size="4.65" text-anchor="middle" fill="#222" stroke="#222" stroke-width="0.08">49</text>
<text transform="translate(392.82 156) scale(1 1)" font-size="4.65" text-anchor="middle" fill="#222" stroke="#222" stroke-width="0.08">56</text>
<text transform="translate(402.87 156) scale(1 1)" font-size="4.65" text-anchor="middle" fill="#222" stroke="#222" stroke-width="0.08">63</text>
<text transform="translate(412.92 156) scale(1 1)" font-size="4.65" text-anchor="middle" fill="#222" stroke="#222" stroke-width="0.08">70</text>
<text transform="translate(422.97 156) scale(1 1)" font-size="4.65" text-anchor="middle" fill="#222" stroke="#222" stroke-width="0.08">77</text>
<text transform="translate(433.02 156) scale(1 1)" font-size="4.65" text-anchor="middle" fill="#222" stroke="#222" stroke-width="0.08">84</text>
<text transform="translate(443.08 156) scale(1 1)" font-size="4.65" text-anchor="middle" fill="#222" stroke="#222" stroke-width="0.08">91</text>
<text transform="translate(453.13 156) scale(1 1)" font-size="4.65" text-anchor="middle" fill="#222" stroke="#222" stroke-width="0.08">98</text>
<text transform="translate(463.18 156) scale(1 1)" font-size="4.65" text-anchor="middle" fill="#222" stroke="#222" stroke-width="0.08">105</text>
<text transform="translate(473.23 156) scale(1 1)" font-size="4.65" text-anchor="middle" fill="#222" stroke="#222" stroke-width="0.08">112</text>
<text transform="translate(483.28 156) scale(1 1)" font-size="4.65" text-anchor="middle" fill="#222" stroke="#222" stroke-width="0.08">119</text>
<text transform="translate(493.34 156) scale(1 1)" font-size="4.65" text-anchor="middle" fill="#222" stroke="#222" stroke-width="0.08">126</text>
<text transform="translate(503.39 156) scale(1 1)" font-size="4.65" text-anchor="middle" fill="#222" stroke="#222" stroke-width="0.08">133</text>
<text transform="translate(513.44 156) scale(1 1)" font-size="4.65" text-anchor="middle" fill="#222" stroke="#222" stroke-width="0.08">140</text>
<text transform="translate(413.4 24.4) scale(1 1)" font-size="5.44" text-anchor="middle" font-weight="bold" fill="#111" stroke="#111" stroke-width="0.2">Platelet Engraftment by CRS Grade</text>
<text transform="translate(413.4 163.6) scale(1 1)" font-size="4.78" text-anchor="middle" fill="#222" stroke="#222" stroke-width="0.08">Days to Platelet Engraftment</text>
<text transform="translate(295.1 87.7) rotate(-90) scale(1 1)" font-size="4.74" text-anchor="middle" fill="#222" stroke="#222" stroke-width="0.08">Cumulative Incidence of Platelet Engraftment</text>
<text transform="translate(332.8 174.52) scale(1 1)" font-size="4.5" text-anchor="start" fill="#222" stroke="#222" stroke-width="0.08">No CRS</text>
<text transform="translate(332.8 180.12) scale(1 1)" font-size="4.5" text-anchor="start" fill="#222" stroke="#222" stroke-width="0.08">CRS Grade 1-2</text>
<text transform="translate(332.8 185.62) scale(1 1)" font-size="4.5" text-anchor="start" fill="#222" stroke="#222" stroke-width="0.08">CRS Grade 3-4</text>
<text transform="translate(43.8 372.96) scale(1 1)" font-size="4.6" text-anchor="end" fill="#222" stroke="#222" stroke-width="0.03">0.0</text>
<text transform="translate(43.8 360.75) scale(1 1)" font-size="4.6" text-anchor="end" fill="#222" stroke="#222" stroke-width="0.03">0.1</text>
<text transform="translate(43.8 348.54) scale(1 1)" font-size="4.6" text-anchor="end" fill="#222" stroke="#222" stroke-width="0.03">0.2</text>
<text transform="translate(43.8 336.33) scale(1 1)" font-size="4.6" text-anchor="end" fill="#222" stroke="#222" stroke-width="0.03">0.3</text>
<text transform="translate(43.8 324.12) scale(1 1)" font-size="4.6" text-anchor="end" fill="#222" stroke="#222" stroke-width="0.03">0.4</text>
<text transform="translate(43.8 311.91) scale(1 1)" font-size="4.6" text-anchor="end" fill="#222" stroke="#222" stroke-width="0.03">0.5</text>
<text transform="translate(43.8 299.7) scale(1 1)" font-size="4.6" text-anchor="end" fill="#222" stroke="#222" stroke-width="0.03">0.6</text>
<text transform="translate(43.8 287.49) scale(1 1)" font-size="4.6" text-anchor="end" fill="#222" stroke="#222" stroke-width="0.03">0.7</text>
<text transform="translate(43.8 275.28) scale(1 1)" font-size="4.6" text-anchor="end" fill="#222" stroke="#222" stroke-width="0.03">0.8</text>
<text transform="translate(43.8 263.07) scale(1 1)" font-size="4.6" text-anchor="end" fill="#222" stroke="#222" stroke-width="0.03">0.9</text>
<text transform="translate(43.8 250.86) scale(1 1)" font-size="4.6" text-anchor="end" fill="#222" stroke="#222" stroke-width="0.03">1.0</text>
<text transform="translate(48.4 381.2) scale(1 1)" font-size="4.7" text-anchor="middle" fill="#222" stroke="#222" stroke-width="0.03">0</text>
<text transform="translate(69.58 381.2) scale(1 1)" font-size="4.7" text-anchor="middle" fill="#222" stroke="#222" stroke-width="0.03">6</text>
<text transform="translate(90.76 381.2) scale(1 1)" font-size="4.7" text-anchor="middle" fill="#222" stroke="#222" stroke-width="0.03">12</text>
<text transform="translate(111.94 381.2) scale(1 1)" font-size="4.7" text-anchor="middle" fill="#222" stroke="#222" stroke-width="0.03">18</text>
<text transform="translate(133.12 381.2) scale(1 1)" font-size="4.7" text-anchor="middle" fill="#222" stroke="#222" stroke-width="0.03">24</text>
<text transform="translate(154.3 381.2) scale(1 1)" font-size="4.7" text-anchor="middle" fill="#222" stroke="#222" stroke-width="0.03">30</text>
<text transform="translate(175.48 381.2) scale(1 1)" font-size="4.7" text-anchor="middle" fill="#222" stroke="#222" stroke-width="0.03">36</text>
<text transform="translate(196.66 381.2) scale(1 1)" font-size="4.7" text-anchor="middle" fill="#222" stroke="#222" stroke-width="0.03">42</text>
<text transform="translate(217.84 381.2) scale(1 1)" font-size="4.7" text-anchor="middle" fill="#222" stroke="#222" stroke-width="0.03">48</text>
<text transform="translate(239.02 381.2) scale(1 1)" font-size="4.7" text-anchor="middle" fill="#222" stroke="#222" stroke-width="0.03">54</text>
<text transform="translate(260.2 381.2) scale(1 1)" font-size="4.7" text-anchor="middle" fill="#222" stroke="#222" stroke-width="0.03">60</text>
<text transform="translate(154 242.6) scale(1 1)" font-size="5.68" text-anchor="middle" font-weight="bold" fill="#111" stroke="#111" stroke-width="0.2">Transplant Related Mortality by CRS Grade</text>
<text transform="translate(153.6 390) scale(1 1)" font-size="4.96" text-anchor="middle" fill="#222" stroke="#222" stroke-width="0.03">Months to Death or Last Follow-up</text>
<text transform="translate(29.8 310) rotate(-90) scale(1 1)" font-size="4.94" text-anchor="middle" fill="#222" stroke="#222" stroke-width="0.03">Cumulative Incidence of Transplant Related Mortality</text>
<text transform="translate(69 400.19) scale(1 1)" font-size="4.7" text-anchor="start" fill="#222" stroke="#222" stroke-width="0.03">No CRS</text>
<text transform="translate(69 406.29) scale(1 1)" font-size="4.7" text-anchor="start" fill="#222" stroke="#222" stroke-width="0.03">CRS Grade 1-2</text>
<text transform="translate(69 412.19) scale(1 1)" font-size="4.7" text-anchor="start" fill="#222" stroke="#222" stroke-width="0.03">CRS Grade 3-4</text>
<text class="g" transform="translate(310.4 381.38) scale(1 1)" font-size="4.4" text-anchor="end" fill="#222" stroke="#222" stroke-width="0.08">0.0</text>
<text class="g" transform="translate(310.4 368.07) scale(1 1)" font-size="4.4" text-anchor="end" fill="#222" stroke="#222" stroke-width="0.08">0.1</text>
<text class="g" transform="translate(310.4 354.76) scale(1 1)" font-size="4.4" text-anchor="end" fill="#222" stroke="#222" stroke-width="0.08">0.2</text>
<text class="g" transform="translate(310.4 341.45) scale(1 1)" font-size="4.4" text-anchor="end" fill="#222" stroke="#222" stroke-width="0.08">0.3</text>
<text class="g" transform="translate(310.4 328.14) scale(1 1)" font-size="4.4" text-anchor="end" fill="#222" stroke="#222" stroke-width="0.08">0.4</text>
<text class="g" transform="translate(310.4 314.83) scale(1 1)" font-size="4.4" text-anchor="end" fill="#222" stroke="#222" stroke-width="0.08">0.5</text>
<text class="g" transform="translate(310.4 301.52) scale(1 1)" font-size="4.4" text-anchor="end" fill="#222" stroke="#222" stroke-width="0.08">0.6</text>
<text class="g" transform="translate(310.4 288.21) scale(1 1)" font-size="4.4" text-anchor="end" fill="#222" stroke="#222" stroke-width="0.08">0.7</text>
<text class="g" transform="translate(310.4 274.9) scale(1 1)" font-size="4.4" text-anchor="end" fill="#222" stroke="#222" stroke-width="0.08">0.8</text>
<text class="g" transform="translate(310.4 261.59) scale(1 1)" font-size="4.4" text-anchor="end" fill="#222" stroke="#222" stroke-width="0.08">0.9</text>
<text class="g" transform="translate(310.4 248.28) scale(1 1)" font-size="4.4" text-anchor="end" fill="#222" stroke="#222" stroke-width="0.08">1.0</text>
<text class="g" transform="translate(315 388.7) scale(1 1)" font-size="4.3" text-anchor="middle" fill="#222" stroke="#222" stroke-width="0.08">0</text>
<text class="g" transform="translate(334.38 388.7) scale(1 1)" font-size="4.3" text-anchor="middle" fill="#222" stroke="#222" stroke-width="0.08">6</text>
<text class="g" transform="translate(353.76 388.7) scale(1 1)" font-size="4.3" text-anchor="middle" fill="#222" stroke="#222" stroke-width="0.08">12</text>
<text class="g" transform="translate(373.14 388.7) scale(1 1)" font-size="4.3" text-anchor="middle" fill="#222" stroke="#222" stroke-width="0.08">18</text>
<text class="g" transform="translate(392.52 388.7) scale(1 1)" font-size="4.3" text-anchor="middle" fill="#222" stroke="#222" stroke-width="0.08">24</text>
<text class="g" transform="translate(411.9 388.7) scale(1 1)" font-size="4.3" text-anchor="middle" fill="#222" stroke="#222" stroke-width="0.08">30</text>
<text class="g" transform="translate(431.28 388.7) scale(1 1)" font-size="4.3" text-anchor="middle" fill="#222" stroke="#222" stroke-width="0.08">36</text>
<text class="g" transform="translate(450.66 388.7) scale(1 1)" font-size="4.3" text-anchor="middle" fill="#222" stroke="#222" stroke-width="0.08">42</text>
<text class="g" transform="translate(470.04 388.7) scale(1 1)" font-size="4.3" text-anchor="middle" fill="#222" stroke="#222" stroke-width="0.08">48</text>
<text class="g" transform="translate(489.42 388.7) scale(1 1)" font-size="4.3" text-anchor="middle" fill="#222" stroke="#222" stroke-width="0.08">54</text>
<text class="g" transform="translate(508.8 388.7) scale(1 1)" font-size="4.3" text-anchor="middle" fill="#222" stroke="#222" stroke-width="0.08">60</text>
<text transform="translate(412 240.9) scale(1 1)" font-size="5.25" text-anchor="middle" font-weight="bold" fill="#111" stroke="#111" stroke-width="0.2">Overall Survival by CRS Grade</text>
<text transform="translate(412.2 396.4) scale(1 1)" font-size="4.53" text-anchor="middle" fill="#222" stroke="#222" stroke-width="0.08">Months to Death or Last Follow-up</text>
<text class="g" transform="translate(298 312.6) rotate(-90) scale(1 1)" font-size="4.1" text-anchor="middle" fill="#222" stroke="#222" stroke-width="0.08">Overall Survival</text>
<text class="g" transform="translate(478 251.19) scale(1 1)" font-size="4.43" text-anchor="start" fill="#222" stroke="#222" stroke-width="0.08">No CRS</text>
<text class="g" transform="translate(478 257.09) scale(1 1)" font-size="4.43" text-anchor="start" fill="#222" stroke="#222" stroke-width="0.08">CRS Grade 1-2</text>
<text class="g" transform="translate(478 262.59) scale(1 1)" font-size="4.43" text-anchor="start" fill="#222" stroke="#222" stroke-width="0.08">CRS Grade 3-4</text>
<text transform="translate(1.9 13.6) scale(0.97 1)" font-size="16.9" font-weight="bold" fill="#000" stroke="#000" stroke-width="0.35">A</text>
<text transform="translate(277 13.5) scale(0.92 1)" font-size="15.9" font-weight="bold" fill="#000" stroke="#000" stroke-width="0.35">B</text>
<text transform="translate(2.5 222.4) scale(0.9 1)" font-size="15.9" font-weight="bold" fill="#000" stroke="#000" stroke-width="0.35">C</text>
<text transform="translate(276.7 222.5) scale(0.94 1)" font-size="15.9" font-weight="bold" fill="#000" stroke="#000" stroke-width="0.35">D</text>
</g>
</svg>
</body></html>
